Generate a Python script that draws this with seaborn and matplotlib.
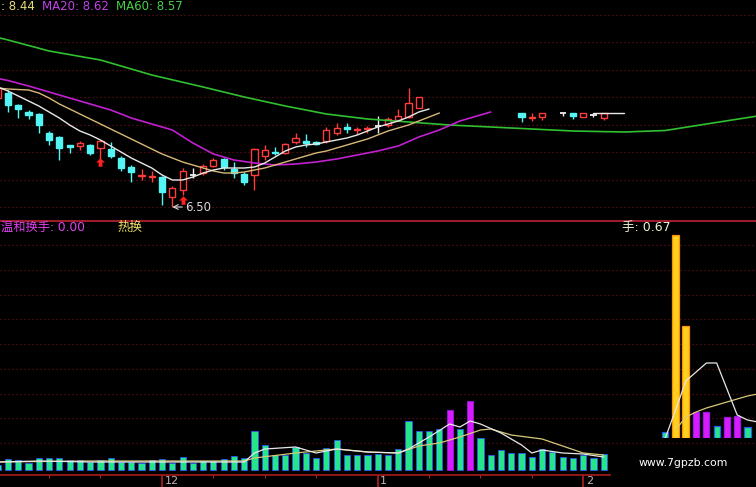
import numpy as np
import matplotlib
matplotlib.use("Agg")
import matplotlib.pyplot as plt
import seaborn as sns

# ---------------- data ----------------
# daily candles (bar index, OHLC)
candle_idx = list(range(-1, 41)) + [50, 51, 52, 54, 55, 56, 57, 58]
opens = [8.68, 8.78, 8.54, 8.40, 8.36, 7.98, 7.90, 7.74, 7.72, 7.74, 7.68, 7.66, 7.48, 7.30,
         7.13, 7.11, 7.10, 6.70, 6.84, 7.14, 7.18, 7.32, 7.46, 7.26, 7.16, 7.14, 7.52, 7.60,
         7.58, 7.80, 7.82, 7.80, 7.82, 7.98, 8.10, 8.05, 8.07, 8.12, 8.14, 8.24, 8.30, 8.48,
         8.38, 8.29, 8.30, 8.38, 8.38, 8.30, 8.34, 8.28]
highs = [8.92, 8.84, 8.56, 8.44, 8.38, 8.02, 7.92, 7.74, 7.82, 7.76, 7.84, 7.80, 7.52, 7.34,
         7.26, 7.22, 7.12, 6.92, 7.28, 7.28, 7.36, 7.48, 7.48, 7.40, 7.20, 7.68, 7.74, 7.70,
         7.78, 7.98, 7.96, 7.82, 8.10, 8.18, 8.18, 8.10, 8.12, 8.32, 8.30, 8.46, 8.88, 8.70,
         8.38, 8.38, 8.38, 8.38, 8.38, 8.38, 8.38, 8.38]
lows = [8.64, 8.40, 8.28, 8.26, 7.98, 7.74, 7.44, 7.58, 7.64, 7.54, 7.46, 7.48, 7.22, 7.00,
        7.04, 7.00, 6.54, 6.50, 6.74, 7.08, 7.14, 7.30, 7.24, 7.08, 6.94, 6.84, 7.44, 7.54,
        7.56, 7.76, 7.70, 7.74, 7.78, 7.94, 7.98, 7.96, 7.98, 7.98, 8.10, 8.22, 8.28, 8.48,
        8.20, 8.22, 8.24, 8.32, 8.26, 8.30, 8.30, 8.24]
closes = [8.88, 8.54, 8.46, 8.34, 8.14, 7.84, 7.68, 7.70, 7.78, 7.58, 7.82, 7.52, 7.28, 7.20,
          7.14, 7.12, 6.80, 6.88, 7.22, 7.14, 7.32, 7.44, 7.30, 7.18, 7.00, 7.66, 7.64, 7.58,
          7.76, 7.88, 7.78, 7.76, 8.04, 8.08, 8.06, 8.06, 8.08, 8.12, 8.26, 8.32, 8.58, 8.70,
          8.30, 8.30, 8.38, 8.38, 8.32, 8.38, 8.34, 8.38]

# moving averages
ma5_idx = list(range(-1, 42))
ma5 = [8.90, 8.82, 8.72, 8.62, 8.52, 8.40, 8.28, 8.14, 8.02, 7.94, 7.84, 7.72, 7.60, 7.48,
       7.38, 7.28, 7.14, 7.04, 7.04, 7.10, 7.18, 7.24, 7.28, 7.28, 7.28, 7.30, 7.38, 7.50,
       7.62, 7.70, 7.74, 7.76, 7.80, 7.84, 7.88, 7.94, 8.02, 8.10, 8.16, 8.22, 8.30, 8.40, 8.46]
ma5b_idx = [57, 60]
ma5b = [8.38, 8.38]
ma10_idx = list(range(-1, 43))
ma10 = [8.88, 8.86, 8.85, 8.84, 8.78, 8.68, 8.56, 8.46, 8.36, 8.26, 8.16, 8.06, 7.96, 7.86,
        7.76, 7.66, 7.56, 7.48, 7.40, 7.34, 7.28, 7.22, 7.18, 7.18, 7.20, 7.24, 7.28, 7.34,
        7.40, 7.46, 7.52, 7.58, 7.62, 7.68, 7.74, 7.80, 7.86, 7.94, 8.02, 8.08, 8.14, 8.22,
        8.30, 8.38]
ma20_idx = [-1, 0, 2, 4, 6, 8, 10, 12, 14, 16, 18, 20, 22, 24, 26, 28, 30, 32, 34, 36, 38,
            40, 42, 44, 46, 47]
ma20 = [9.07, 9.03, 8.92, 8.80, 8.68, 8.56, 8.44, 8.28, 8.16, 8.04, 7.78, 7.56, 7.44, 7.38,
        7.34, 7.36, 7.40, 7.46, 7.54, 7.62, 7.72, 7.90, 8.04, 8.22, 8.34, 8.40]
ma60_idx = [-1, 0, 4, 9, 14, 19, 23, 27, 31, 35, 39, 43, 47, 51, 55, 60, 64, 68, 73]
ma60 = [9.89, 9.84, 9.62, 9.44, 9.14, 8.90, 8.70, 8.52, 8.36, 8.26, 8.20, 8.14, 8.10, 8.06,
        8.02, 8.00, 8.03, 8.16, 8.32]

signal_idx = [9, 17]
signal_price = [7.40, 6.64]

header_top = [": 8.44", "MA20: 8.62", "MA60: 8.57"]

# turnover panel
vol_idx = list(range(-1, 59))
vol = [0.25, 0.55, 0.50, 0.35, 0.60, 0.60, 0.60, 0.50, 0.50, 0.40, 0.50,
       0.60, 0.40, 0.40, 0.35, 0.50, 0.55, 0.35, 0.65, 0.35, 0.45,
       0.45, 0.55, 0.70, 0.60, 1.95, 1.25, 0.75, 0.75, 1.15, 0.85,
       0.60, 1.10, 1.50, 0.75, 0.75, 0.75, 0.80, 0.75, 1.05, 2.45,
       1.95, 1.95, 2.05, 3.00, 2.05, 3.45, 1.60, 0.75, 1.00, 0.85,
       0.85, 0.65, 1.05, 0.90, 0.65, 0.60, 0.75, 0.60, 0.80]
heavy_idx = [43, 45]
vol_w_idx = [-1, 3, 8, 13, 18, 23, 24, 25, 28, 30, 32, 35, 38, 39, 41, 43, 44, 45, 46, 48,
             50, 51, 52, 54, 56, 58]
vol_w = [0.40, 0.45, 0.40, 0.40, 0.40, 0.40, 0.85, 1.05, 1.15, 0.85, 1.05, 0.90, 0.85, 1.05,
         1.65, 2.30, 2.15, 2.45, 2.30, 1.85, 1.25, 0.85, 1.00, 0.85, 0.80, 0.65]
vol_y_idx = [-1, 8, 18, 23, 24, 28, 32, 35, 38, 40, 42, 44, 46, 47, 49, 52, 54, 56, 58]
vol_y = [0.40, 0.45, 0.45, 0.45, 0.60, 0.85, 1.05, 0.90, 0.85, 1.20, 1.35, 1.65, 2.00, 2.05,
         1.75, 1.55, 1.20, 0.85, 0.75]

frag_idx = [64, 65, 66, 67, 68, 69, 70, 71, 72]
frag_vol = [0.30, 10.15, 5.60, 1.30, 1.30, 0.60, 1.05, 1.10, 0.55]
frag_kind = ["normal", "hot", "hot", "heavy", "heavy", "normal", "heavy", "heavy", "normal"]
frag_w_idx = [64, 65, 66, 67, 68, 69, 70, 71, 72, 73]
frag_w = [0.00, 1.40, 2.85, 3.30, 3.75, 3.75, 2.45, 1.15, 0.90, 0.80]
frag_y_idx = [65, 66, 67, 68, 69, 70, 71, 72, 73]
frag_y = [0.40, 1.05, 1.30, 1.50, 1.65, 1.80, 1.95, 2.10, 2.20]

month_ticks = [15, 36, 56]
month_labels = ["12", "1", "2"]
minor_ticks = [4, 9, 20, 25, 30, 41, 46, 51]

# ---------------- style ----------------
sns.set_theme(style="dark", rc={
    "axes.facecolor": "black", "figure.facecolor": "black",
    "savefig.facecolor": "black", "axes.grid": False,
})
plt.rcParams["font.family"] = ["DejaVu Sans", "Noto Sans CJK SC"]
CJK = ["DejaVu Sans", "Noto Sans CJK SC"]

W, H = 756, 487
fig = plt.figure(figsize=(W / 100, H / 100), dpi=100, facecolor="black")


def fy(py):
    return 1 - py / H


ax_p = fig.add_axes([0, fy(221), 1, 221 / H])
ax_v = fig.add_axes([0, fy(475), 1, (475 - 222) / H])
ax_f = fig.add_axes([0, fy(438), 1, (438 - 222) / H])

XL = (-0.78, 72.83)
grid_kw = dict(color="#661018", lw=0.9, ls=(0, (1, 2.2)), zorder=1)

# ---------------- price panel ----------------
for g in np.linspace(6.50, 10.34, 8):
    ax_p.axhline(g, **grid_kw)

up_col, dn_col, doji_col = "#ff3c3c", "#54f4f4", "#f0f0f0"
for i, o, h, l, c in zip(candle_idx, opens, highs, lows, closes):
    if np.isclose(o, c):
        col = doji_col
    elif c > o:
        col = up_col
    else:
        col = dn_col
    ax_p.vlines(i, l, h, color=col, lw=1.0, zorder=3)
    if np.isclose(o, c):
        ax_p.hlines(o, i - 0.3, i + 0.3, color=col, lw=1.3, zorder=4)
    else:
        face = "black" if c > o else dn_col
        ax_p.bar(i, abs(c - o), bottom=min(o, c), width=0.6, facecolor=face,
                 edgecolor=col, lw=1.0, zorder=4)

line_kw = dict(ax=ax_p, legend=False, errorbar=None, zorder=5)
sns.lineplot(x=ma60_idx, y=ma60, color="#30c030", linewidth=1.2, **line_kw)
sns.lineplot(x=ma20_idx, y=ma20, color="#c020d0", linewidth=1.2, **line_kw)
sns.lineplot(x=ma10_idx, y=ma10, color="#d8b878", linewidth=1.0, **line_kw)
sns.lineplot(x=ma5_idx, y=ma5, color="#e8e8e8", linewidth=1.0, **line_kw)
sns.lineplot(x=ma5b_idx, y=ma5b, color="#e8e8e8", linewidth=1.0, **line_kw)

arrow_marker = [(0, 1), (1, 0), (0.45, 0), (0.45, -1), (-0.45, -1), (-0.45, 0), (-1, 0), (0, 1)]
ax_p.scatter(signal_idx, signal_price, marker=arrow_marker, s=38, color="#ff2020",
             linewidths=0, zorder=6)

imin = int(np.argmin(lows))
ax_p.annotate(f"{lows[imin]:.2f}", xy=(candle_idx[imin], lows[imin]), xytext=(9.5, 0),
              textcoords="offset points", ha="left", va="center", color="#d8d8d8",
              fontsize=8.5, zorder=7,
              arrowprops=dict(arrowstyle="->", color="#d8d8d8", lw=0.8,
                              shrinkA=0, shrinkB=0))

ax_p.set_xlim(*XL)
ax_p.set_ylim(6.22, 10.64)
ax_p.set_xticks([])
ax_p.set_yticks([])
ax_p.set_xlabel("")
ax_p.set_ylabel("")
for s in ["top", "left", "right"]:
    ax_p.spines[s].set_visible(False)
ax_p.spines["bottom"].set_color("#9c1c2c")
ax_p.spines["bottom"].set_linewidth(1.5)

# ---------------- turnover panel ----------------
for g in np.linspace(1.35, 11.25, 9):
    ax_v.axhline(g, **grid_kw)

green_face, green_edge = "#26e48a", "#2a58f0"
mag_face, mag_edge = "#d81cff", "#9a18e0"
vf = [mag_face if i in heavy_idx else green_face for i in vol_idx]
ve = [mag_edge if i in heavy_idx else green_edge for i in vol_idx]
ax_v.bar(vol_idx, vol, width=0.6, color=vf, edgecolor=ve, lw=0.6, zorder=3)
vline_kw = dict(ax=ax_v, legend=False, errorbar=None, zorder=5)
sns.lineplot(x=vol_y_idx, y=vol_y, color="#d8c878", linewidth=0.9, **vline_kw)
sns.lineplot(x=vol_w_idx, y=vol_w, color="#e8e8e8", linewidth=0.9, **vline_kw)

ax_v.set_xlim(*XL)
ax_v.set_ylim(-0.25, 12.40)
ax_v.set_yticks([])
ax_v.set_xlabel("")
ax_v.set_ylabel("")
for s in ["top", "left", "right"]:
    ax_v.spines[s].set_visible(False)
ax_v.spines["bottom"].set_color("#a81c1c")
ax_v.spines["bottom"].set_linewidth(1.2)
ax_v.spines["bottom"].set_bounds(-1, 58.6)
ax_v.set_xticks(month_ticks)
ax_v.set_xticklabels([])
ax_v.set_xticks(minor_ticks, minor=True)
ax_v.tick_params(axis="x", which="major", direction="out", length=8.6, width=1.2,
                 color="#b02020", bottom=True)
ax_v.tick_params(axis="x", which="minor", direction="out", length=2.2, width=0.8,
                 color="#b02020", bottom=True)
for t, lab in zip(month_ticks, month_labels):
    ax_v.text(t + 0.25, -0.004, lab, transform=ax_v.get_xaxis_transform(), ha="left",
              va="top", color="#c8b0b0", fontsize=8)

# ---------------- right fragment ----------------
kind_face = {"normal": green_face, "hot": "#ffd020", "heavy": mag_face}
kind_edge = {"normal": green_edge, "hot": "#ff9000", "heavy": mag_edge}
widths = [0.7 if k == "hot" else 0.6 for k in frag_kind]
ax_f.bar(frag_idx, frag_vol, width=widths, color=[kind_face[k] for k in frag_kind],
         edgecolor=[kind_edge[k] for k in frag_kind], lw=0.9, zorder=3)
fline_kw = dict(ax=ax_f, legend=False, errorbar=None, zorder=5)
sns.lineplot(x=frag_y_idx, y=frag_y, color="#d8c878", linewidth=0.9, **fline_kw)
sns.lineplot(x=frag_w_idx, y=frag_w, color="#e8e8e8", linewidth=0.9, **fline_kw)
ax_f.set_xlim(*XL)
ax_f.set_ylim(0, 10.80)
ax_f.axis("off")
ax_f.patch.set_visible(False)

# ---------------- texts ----------------
fig.text(1 / W, fy(6.5), header_top[0], color="#e8e07a", fontsize=8.5, va="center", ha="left")
fig.text(42 / W, fy(6.5), header_top[1], color="#c440e8", fontsize=8.5, va="center", ha="left")
fig.text(116 / W, fy(6.5), header_top[2], color="#48d048", fontsize=8.5, va="center", ha="left")

fig.text(1 / W, fy(227), "温和换手: 0.00", color="#e040f0", fontsize=8.8, va="center",
         ha="left", family=CJK)
fig.text(117 / W, fy(227), "热换", color="#f0e060", fontsize=9, va="center", ha="left",
         family=CJK)
fig.text(622 / W, fy(227), "手: 0.67", color="#f0f0d0", fontsize=9, va="center", ha="left",
         family=CJK)

fig.text(683 / W, fy(463), "www.7gpzb.com", color="white", fontsize=7.8, ha="center",
         va="center")

fig.savefig("out.png", dpi=100, facecolor="black")
